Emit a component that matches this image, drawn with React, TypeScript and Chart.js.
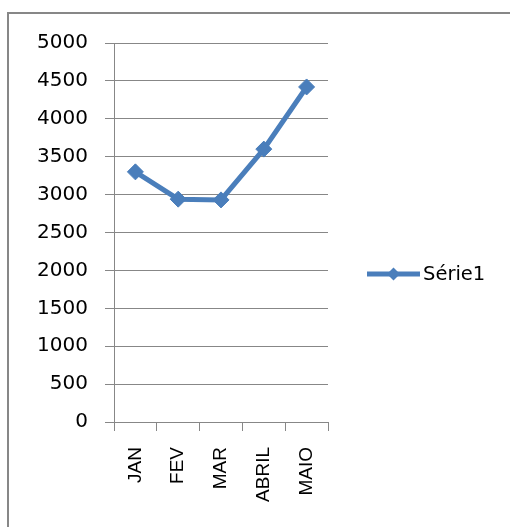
import React, { useEffect, useRef } from "react";
import { Chart, registerables } from "chart.js";

Chart.register(...registerables);

const categories = ["JAN", "FEV", "MAR", "ABRIL", "MAIO"];
const serie1 = [3300, 2940, 2930, 3600, 4420];
const seriesName = "Série1";
const yMin = 0;
const yMax = 5000;
const yStep = 500;

const BLUE = "#4a7ebb";
const GRAY = "#878787";

const framePlugin = {
  id: "frame",
  beforeDraw(chart: any) {
    const ctx = chart.ctx;
    ctx.save();
    ctx.fillStyle = "#ffffff";
    ctx.fillRect(0, 0, chart.width, chart.height);
    ctx.strokeStyle = GRAY;
    ctx.lineWidth = 2;
    ctx.strokeRect(8, 13, chart.width + 50, chart.height + 50);
    ctx.restore();
  },
};

const legendPlugin = {
  id: "customLegend",
  afterDraw(chart: any) {
    const ctx = chart.ctx;
    const ds = chart.data.datasets[0];
    const y = 274;
    const x0 = 367;
    const x1 = 420;
    ctx.save();
    ctx.strokeStyle = ds.borderColor;
    ctx.lineWidth = 5;
    ctx.beginPath();
    ctx.moveTo(x0, y);
    ctx.lineTo(x1, y);
    ctx.stroke();
    const cx = (x0 + x1) / 2;
    const r = 6.5;
    ctx.fillStyle = ds.pointBackgroundColor;
    ctx.beginPath();
    ctx.moveTo(cx, y - r);
    ctx.lineTo(cx + r, y);
    ctx.lineTo(cx, y + r);
    ctx.lineTo(cx - r, y);
    ctx.closePath();
    ctx.fill();
    ctx.fillStyle = "#000000";
    ctx.font = "19.5px 'DejaVu Sans'";
    ctx.textBaseline = "middle";
    ctx.textAlign = "left";
    ctx.fillText(ds.label, 423, y + 1);
    ctx.restore();
  },
};

export default function App() {
  const ref = useRef<HTMLCanvasElement | null>(null);
  useEffect(() => {
    if (!ref.current) return;
    const chart = new Chart(ref.current, {
      type: "line",
      data: {
        labels: categories,
        datasets: [
          {
            label: seriesName,
            data: serie1,
            borderColor: BLUE,
            backgroundColor: BLUE,
            pointBackgroundColor: BLUE,
            pointBorderColor: BLUE,
            borderWidth: 5,
            pointStyle: "rectRot",
            pointRadius: 8,
            pointBorderWidth: 1,
            tension: 0,
          },
        ],
      },
      options: {
        responsive: false,
        animation: false,
        events: [],
        layout: { padding: { left: 0, top: 43, right: 182, bottom: 0 } },
        plugins: {
          legend: { display: false },
          tooltip: { enabled: false },
          title: { display: false },
        },
        scales: {
          x: {
            type: "category",
            offset: true,
            grid: {
              offset: true,
              drawOnChartArea: false,
              drawTicks: true,
              tickLength: 9,
              color: GRAY,
              lineWidth: 1,
            },
            border: { display: true, color: GRAY, width: 1 },
            ticks: {
              maxRotation: 90,
              minRotation: 90,
              padding: 16,
              color: "#000000",
              font: { family: "'Liberation Sans', Arial, sans-serif", size: 19 },
            },
            afterFit(scale: any) {
              scale.height = 105;
            },
          },
          y: {
            min: yMin,
            max: yMax,
            ticks: {
              stepSize: yStep,
              padding: 17,
              color: "#000000",
              font: { family: "'DejaVu Sans', sans-serif", size: 20 },
              callback: (v: any) => String(v),
            },
            grid: {
              color: GRAY,
              lineWidth: 1,
              drawTicks: true,
              tickLength: 9,
            },
            border: { display: true, color: GRAY, width: 1 },
            afterFit(scale: any) {
              scale.width = 114;
            },
          },
        },
      },
      plugins: [framePlugin, legendPlugin],
    });
    return () => chart.destroy();
  }, []);
  return (
    <div style={{ position: "absolute", left: 0, top: 0, width: 510, height: 527 }}>
      <canvas ref={ref} width={510} height={527} style={{ display: "block", width: 510, height: 527 }} />
    </div>
  );
}
